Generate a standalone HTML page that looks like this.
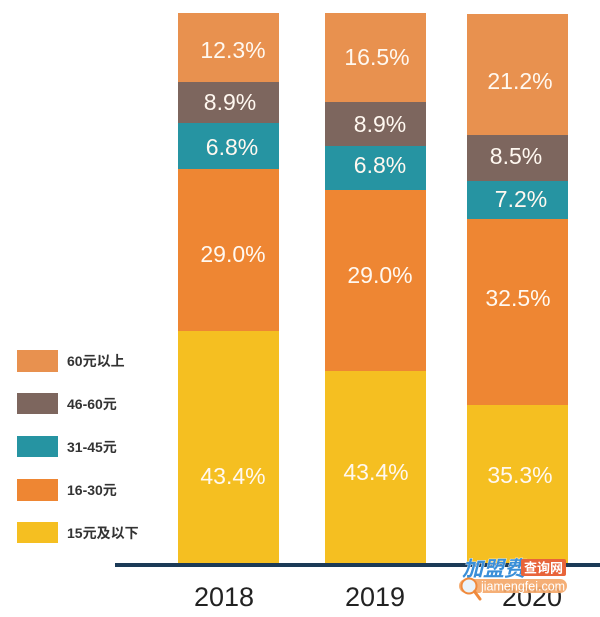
<!DOCTYPE html>
<html>
<head>
<meta charset="utf-8">
<style>
  html,body{margin:0;padding:0;background:#fff;}
  svg{display:block;}
  text{font-family:"Liberation Sans","Noto Sans CJK SC",sans-serif;}
</style>
</head>
<body>
<svg width="600" height="617" viewBox="0 0 600 617" xmlns="http://www.w3.org/2000/svg">
  <rect x="0" y="0" width="600" height="617" fill="#ffffff"/>

  <!-- Bar 2018 -->
  <rect x="178" y="13" width="101" height="69" fill="#E8914F"/>
  <rect x="178" y="82" width="101" height="41" fill="#7D665E"/>
  <rect x="178" y="123" width="101" height="46" fill="#2694A2"/>
  <rect x="178" y="169" width="101" height="162" fill="#EE8633"/>
  <rect x="178" y="331" width="101" height="233" fill="#F5BF21"/>

  <!-- Bar 2019 -->
  <rect x="325" y="13" width="101" height="89" fill="#E8914F"/>
  <rect x="325" y="102" width="101" height="44" fill="#7D665E"/>
  <rect x="325" y="146" width="101" height="44" fill="#2694A2"/>
  <rect x="325" y="190" width="101" height="181" fill="#EE8633"/>
  <rect x="325" y="371" width="101" height="193" fill="#F5BF21"/>

  <!-- Bar 2020 -->
  <rect x="467" y="14" width="101" height="121" fill="#E8914F"/>
  <rect x="467" y="135" width="101" height="46" fill="#7D665E"/>
  <rect x="467" y="181" width="101" height="38" fill="#2694A2"/>
  <rect x="467" y="219" width="101" height="186" fill="#EE8633"/>
  <rect x="467" y="405" width="101" height="159" fill="#F5BF21"/>

  <!-- Percent labels -->
  <g font-size="23" fill="#FFF8F0" text-anchor="middle">
    <text x="233" y="58">12.3%</text>
    <text x="230" y="110">8.9%</text>
    <text x="232" y="155">6.8%</text>
    <text x="233" y="262">29.0%</text>
    <text x="233" y="484">43.4%</text>

    <text x="377" y="65">16.5%</text>
    <text x="380" y="132">8.9%</text>
    <text x="380" y="173">6.8%</text>
    <text x="380" y="283">29.0%</text>
    <text x="376" y="480">43.4%</text>

    <text x="520" y="89">21.2%</text>
    <text x="516" y="164">8.5%</text>
    <text x="521" y="207">7.2%</text>
    <text x="518" y="306">32.5%</text>
    <text x="520" y="483">35.3%</text>
  </g>

  <!-- Axis line -->
  <rect x="115" y="563" width="485" height="4" fill="#1B3A57"/>

  <!-- Year labels -->
  <g font-size="27" fill="#222" text-anchor="middle">
    <text x="224" y="606">2018</text>
    <text x="375" y="606">2019</text>
    <text x="532" y="606">2020</text>
  </g>

  <!-- Legend -->
  <rect x="17" y="350" width="41" height="22" fill="#E8914F"/>
  <rect x="17" y="393" width="41" height="21" fill="#7D665E"/>
  <rect x="17" y="436" width="41" height="21" fill="#2694A2"/>
  <rect x="17" y="479" width="41" height="22" fill="#EE8633"/>
  <rect x="17" y="522" width="41" height="21" fill="#F5BF21"/>
  <g font-size="14" font-weight="bold" fill="#333">
    <text x="67" y="366">60元以上</text>
    <text x="67" y="409">46-60元</text>
    <text x="67" y="452">31-45元</text>
    <text x="67" y="495">16-30元</text>
    <text x="67" y="538">15元及以下</text>
  </g>

  <!-- Watermark -->
  <g>
    <text x="462" y="576" font-size="21" font-weight="bold" font-style="italic" fill="#3A8FD8" stroke="#ffffff" stroke-width="0.8" paint-order="stroke">加盟费</text>
    <rect x="521" y="559" width="45" height="17" rx="2" fill="#E8643A"/>
    <text x="543.5" y="572.5" font-size="13" font-weight="bold" fill="#fff" text-anchor="middle">查询网</text>
    <rect x="459" y="579" width="108" height="14" rx="7" fill="#F4A86A" opacity="0.92"/>
    <text x="481" y="590.5" font-size="12.5" fill="#fff">jiamengfei.com</text>
    <circle cx="469" cy="586" r="7.5" fill="#EAF3FA" stroke="#F08A3C" stroke-width="2"/>
    <line x1="474.5" y1="591.5" x2="480" y2="599" stroke="#F08A3C" stroke-width="3" stroke-linecap="round"/>
  </g>
</svg>
</body>
</html>
